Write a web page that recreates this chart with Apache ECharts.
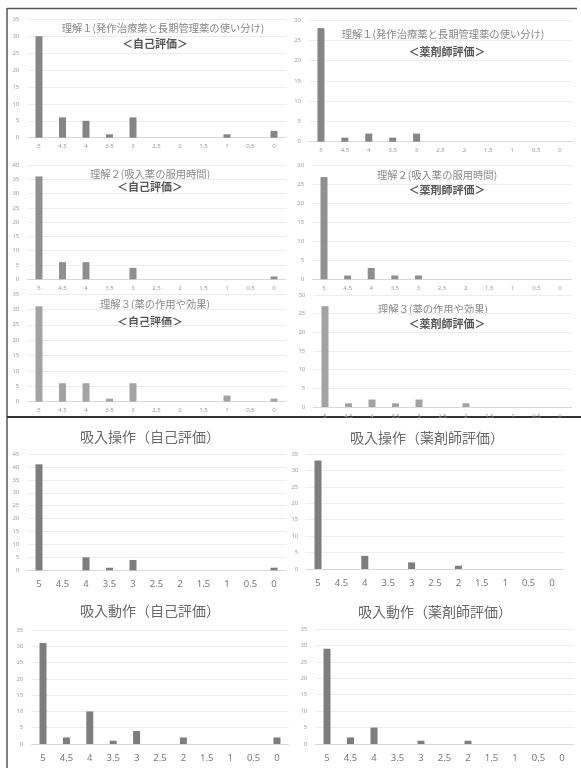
<!DOCTYPE html>
<html><head><meta charset="utf-8">
<script src="https://cdn.jsdelivr.net/npm/echarts@6/dist/echarts.min.js"></script>
<style>html,body{margin:0;padding:0;background:#fff}#c{width:581px;height:768px}</style>
</head><body><div id="c"></div>
<script>
const categories = ['5','4.5','4','3.5','3','2.5','2','1.5','1','0.5','0'];
const u1Self  = [30,6,5,1,6,0,0,0,1,0,2];
const u1Pharm = [28,1,2,1,2,0,0,0,0,0,0];
const u2Self  = [36,6,6,0,4,0,0,0,0,0,1];
const u2Pharm = [27,1,3,1,1,0,0,0,0,0,0];
const u3Self  = [31,6,6,1,6,0,0,0,2,0,1];
const u3Pharm = [27,1,2,1,2,0,1,0,0,0,0];
const opSelf  = [41,0,5,1,4,0,0,0,0,0,1];
const opPharm = [33,0,4,0,2,0,1,0,0,0,0];
const acSelf  = [31,2,10,1,4,0,2,0,0,0,2];
const acPharm = [29,2,5,0,1,0,1,0,0,0,0];
const yMax = [35,30,40,30,35,30,45,35,35,35];
const titles = [
  ['理解１(発作治療薬と長期管理薬の使い分け)','＜自己評価＞'],
  ['理解１(発作治療薬と長期管理薬の使い分け)','＜薬剤師評価＞'],
  ['理解２(吸入薬の服用時間)','＜自己評価＞'],
  ['理解２(吸入薬の服用時間)','＜薬剤師評価＞'],
  ['理解３(薬の作用や効果)','＜自己評価＞'],
  ['理解３(薬の作用や効果)','＜薬剤師評価＞'],
  ['吸入操作（自己評価）'],
  ['吸入操作（薬剤師評価）'],
  ['吸入動作（自己評価）'],
  ['吸入動作（薬剤師評価）']
];
const seriesData = [u1Self,u1Pharm,u2Self,u2Pharm,u3Self,u3Pharm,opSelf,opPharm,acSelf,acPharm];

// layout (pixels)
const grids = [
  {left:27.25, top:19.3, width:258.5, bottom:137.7},
  {left:309,   top:20,   width:263,   bottom:141.7},
  {left:27.25, top:165,  width:258.5, bottom:279.3},
  {left:312.2, top:165.7,width:259.6, bottom:279.3},
  {left:27.25, top:294,  width:258.5, bottom:401.7},
  {left:313.25,top:295,  width:258.5, bottom:407},
  {left:27.25, top:454,  width:258.5, bottom:570.3},
  {left:306.3, top:454,  width:257.4, bottom:569},
  {left:31.3,  top:630,  width:257.4, bottom:744},
  {left:315.25,top:629,  width:258.5, bottom:744}
];
const titlePos = [
  [[163,28],[155,44]],
  [[443,34],[447,52]],
  [[150,174],[150,187]],
  [[437,175],[447,190]],
  [[155,304],[150,322]],
  [[433,309],[447,324]],
  [[150,437]],
  [[427,438]],
  [[150,611]],
  [[435,612]]
];
const barColors = ['#858585','#858585','#8f8f8f','#8f8f8f','#a3a3a3','#a3a3a3','#7d7d7d','#7d7d7d','#7d7d7d','#7d7d7d'];

const option = {
  animation:false,
  grid: grids.map(g=>({left:g.left, top:g.top, width:g.width, height:g.bottom-g.top, outerBoundsMode:'none', containLabel:false})),
  xAxis: grids.map((g,i)=>({
    type:'category', gridIndex:i, data:categories,
    axisTick:{show:false},
    axisLine:{show:true, lineStyle:{color:'#d9d9d9'}},
    axisLabel:{fontSize: i<6?6:9.5, color: i<6?'#9a9a9a':'#7a7a7a', margin: i<6?6:9, interval:0, fontFamily:'Noto Sans'}
  })),
  yAxis: grids.map((g,i)=>({
    type:'value', gridIndex:i, min:0, max:yMax[i], interval:5,
    axisLine:{show:false}, axisTick:{show:false},
    splitLine:{lineStyle:{color:'#ececec'}},
    axisLabel:{fontSize:6, color:'#a0a0a0', margin:8, fontFamily:'Noto Sans'}
  })),
  series: seriesData.map((d,i)=>({
    type:'bar', xAxisIndex:i, yAxisIndex:i, data:d, barWidth:7,
    itemStyle:{color:barColors[i]}
  })),
  graphic: []
};
titles.forEach((t,i)=>{
  t.forEach((s,j)=>{
    const p = titlePos[i][j];
    const big = i>=6;
    option.graphic.push({type:'text', x:p[0], y:p[1], silent:true,
      style:{text:s, textAlign:'center', textVerticalAlign:'middle',
        font: big ? '14px "Noto Sans CJK JP"' : (j===1 ? 'bold 11px "Noto Sans CJK JP"' : '10.3px "Noto Sans CJK JP"'),
        fill: big ? '#6a6a6a' : (j===1 ? '#555' : '#8a8a8a')}});
  });
});
// frame lines
option.graphic.push({type:'line', shape:{x1:7,y1:8.5,x2:577,y2:8.5}, style:{stroke:'#555',lineWidth:1.5}, silent:true});
option.graphic.push({type:'line', shape:{x1:7,y1:8,x2:7,y2:768}, style:{stroke:'#555',lineWidth:1.5}, silent:true});
option.graphic.push({type:'line', shape:{x1:7,y1:417,x2:581,y2:417}, style:{stroke:'#333',lineWidth:2}, silent:true});

const chart = echarts.init(document.getElementById('c'));
chart.setOption(option);
</script></body></html>
